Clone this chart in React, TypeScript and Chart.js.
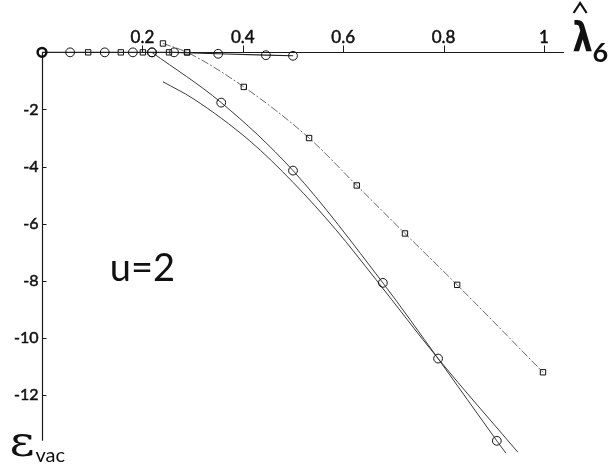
import React, { useEffect, useRef } from "react";
import { Chart, registerables } from "chart.js";

Chart.register(...registerables);

// ---- tick labels ----
const xTicks = [0.2, 0.4, 0.6, 0.8, 1];
const xTickLabels = ["0.2", "0.4", "0.6", "0.8", "1"];
const yTicks = [-2, -4, -6, -8, -10, -12];
const yTickLabels = ["-2", "-4", "-6", "-8", "-10", "-12"];

// ---- series ----
const flatCircleX = [0, 0.056, 0.125, 0.181, 0.219, 0.263, 0.351, 0.446, 0.5];
const flatCircleY = [0, 0, 0, 0, 0, 0, -0.05, -0.1, -0.12];

const flatSquareX = [0.092, 0.157, 0.201, 0.253, 0.289];
const flatSquareY = [0, 0, 0, 0, 0];

const circleCurveX = [0.219, 0.357, 0.5, 0.679, 0.789, 0.906, 0.924];
const circleCurveY = [0, -1.76, -4.14, -8.07, -10.72, -13.6, -14.03];

const squareCurveX = [0.241, 0.289, 0.402, 0.532, 0.627, 0.723, 0.827, 0.998];
const squareCurveY = [0.31, 0, -1.21, -3.0, -4.66, -6.34, -8.14, -11.2];

const plainCurveX = [0.241, 0.301, 0.414, 0.5, 0.585, 0.665, 0.789, 0.948];
const plainCurveY = [-1.03, -1.62, -3.1, -4.55, -6.2, -7.95, -10.72, -14.0];

const pts = (xs: number[], ys: number[]) => xs.map((x, i) => ({ x, y: ys[i] }));

const boldText = (ctx: any, s: string, x: number, y: number) => {
  ctx.fillText(s, x, y);
  ctx.strokeText(s, x, y);
};

const axesPlugin = {
  id: "customAxes",
  beforeDatasetsDraw(chart: any) {
    const { ctx } = chart;
    const xs = chart.scales.x;
    const ys = chart.scales.y;
    const x0 = Math.round(xs.getPixelForValue(0)) + 0.5;
    const y0 = Math.round(ys.getPixelForValue(0)) + 0.5;
    ctx.save();
    ctx.strokeStyle = "#1a1a1a";
    ctx.lineWidth = 1.2;
    ctx.beginPath();
    ctx.moveTo(x0, y0);
    ctx.lineTo(xs.getPixelForValue(1.04), y0);
    ctx.moveTo(x0, y0);
    ctx.lineTo(x0, ys.getPixelForValue(-13.6));
    ctx.stroke();

    ctx.lineWidth = 1;
    ctx.beginPath();
    xTicks.forEach((v) => {
      const px = Math.round(xs.getPixelForValue(v)) + 0.5;
      ctx.moveTo(px, y0);
      ctx.lineTo(px, y0 - 7);
    });
    yTicks.forEach((v) => {
      const py = Math.round(ys.getPixelForValue(v)) + 0.5;
      ctx.moveTo(x0, py);
      ctx.lineTo(x0 + 4, py);
    });
    ctx.stroke();

    ctx.fillStyle = "#111";
    ctx.strokeStyle = "#111";
    ctx.lineWidth = 0.5;
    ctx.font = "17px Lato";
    ctx.textAlign = "center";
    ctx.textBaseline = "alphabetic";
    xTicks.forEach((v, i) => {
      boldText(ctx, xTickLabels[i], xs.getPixelForValue(v), y0 - 10);
    });
    ctx.textAlign = "right";
    ctx.textBaseline = "middle";
    ctx.font = "16px Lato";
    yTicks.forEach((v, i) => {
      boldText(ctx, yTickLabels[i], x0 - 4, ys.getPixelForValue(v));
    });

    // annotation u=2
    ctx.textAlign = "left";
    ctx.textBaseline = "alphabetic";
    ctx.font = "38px Lato";
    ctx.fillText("u=2", xs.getPixelForValue(0.135), ys.getPixelForValue(-8.0));

    // axis title lambda-hat 6
    const lx = xs.getPixelForValue(1.057);
    const ly = y0 - 2;
    ctx.font = "bold 40px 'DejaVu Sans'";
    ctx.save();
    ctx.translate(lx, ly);
    ctx.scale(0.8, 1);
    ctx.fillText("λ", 0, 0);
    ctx.restore();
    ctx.lineWidth = 2.2;
    ctx.beginPath();
    ctx.moveTo(lx + 1, 13);
    ctx.lineTo(lx + 7.5, 3);
    ctx.lineTo(lx + 14, 13);
    ctx.stroke();
    ctx.font = "bold 27px Lato";
    ctx.fillText("6", lx + 20, 62);

    // axis title epsilon_vac
    ctx.font = "42px 'DejaVu Serif'";
    ctx.save();
    ctx.translate(x0 - 33, 456);
    ctx.scale(1.15, 1);
    ctx.fillText("ε", 0, 0);
    ctx.restore();
    ctx.font = "20px Lato";
    ctx.fillText("vac", x0 - 7, 462);
    ctx.restore();
  },
};

export default function App() {
  const ref = useRef<HTMLCanvasElement | null>(null);
  useEffect(() => {
    if (!ref.current) return;
    const lineColor = "#3a3a3a";
    const chart = new Chart(ref.current, {
      type: "scatter",
      data: {
        datasets: [
          {
            data: pts(flatCircleX, flatCircleY),
            showLine: true,
            borderColor: "#222",
            borderWidth: 1.2,
            pointStyle: "circle",
            pointRadius: 4.4,
            pointBorderWidth: flatCircleX.map((_, i) => (i === 0 ? 2.5 : 1)),
            pointBorderColor: "#111",
            pointBackgroundColor: "rgba(0,0,0,0)",
            clip: false,
          } as any,
          {
            data: pts(flatSquareX, flatSquareY),
            showLine: false,
            pointStyle: "rect",
            pointRadius: 3.8,
            pointBorderWidth: 1,
            pointBorderColor: "#111",
            pointBackgroundColor: "rgba(0,0,0,0)",
            clip: false,
          } as any,
          {
            data: pts(circleCurveX, circleCurveY),
            showLine: true,
            borderColor: lineColor,
            borderWidth: 1,
            cubicInterpolationMode: "monotone",
            pointStyle: "circle",
            pointRadius: circleCurveX.map((_, i) => (i === circleCurveX.length - 1 ? 0 : 4.4)),
            pointBorderWidth: 1,
            pointBorderColor: "#111",
            pointBackgroundColor: "rgba(0,0,0,0)",
            clip: false,
          } as any,
          {
            data: pts(squareCurveX, squareCurveY),
            showLine: true,
            borderColor: "#6a6a6a",
            borderWidth: 1,
            borderDash: [8, 2, 2, 2],
            cubicInterpolationMode: "monotone",
            pointStyle: "rect",
            pointRadius: 3.8,
            pointBorderWidth: 1,
            pointBorderColor: "#111",
            pointBackgroundColor: "rgba(0,0,0,0)",
            clip: false,
          } as any,
          {
            data: pts(plainCurveX, plainCurveY),
            showLine: true,
            borderColor: lineColor,
            borderWidth: 1,
            cubicInterpolationMode: "monotone",
            pointRadius: 0,
            clip: false,
          } as any,
        ],
      },
      options: {
        animation: false,
        responsive: false,
        events: [],
        layout: { padding: { left: 42, right: 13.8, top: 9.5, bottom: 0 } },
        plugins: { legend: { display: false }, tooltip: { enabled: false } },
        scales: {
          x: { type: "linear", min: 0, max: 1.1, display: false },
          y: { type: "linear", min: -14.45, max: 1.5, display: false },
        },
      },
      plugins: [axesPlugin],
    });
    return () => chart.destroy();
  }, []);
  return (
    <div style={{ position: "fixed", left: 0, top: 0, width: 608, height: 472, background: "#fff" }}>
      <canvas ref={ref} width={608} height={472} style={{ display: "block" }} />
    </div>
  );
}
